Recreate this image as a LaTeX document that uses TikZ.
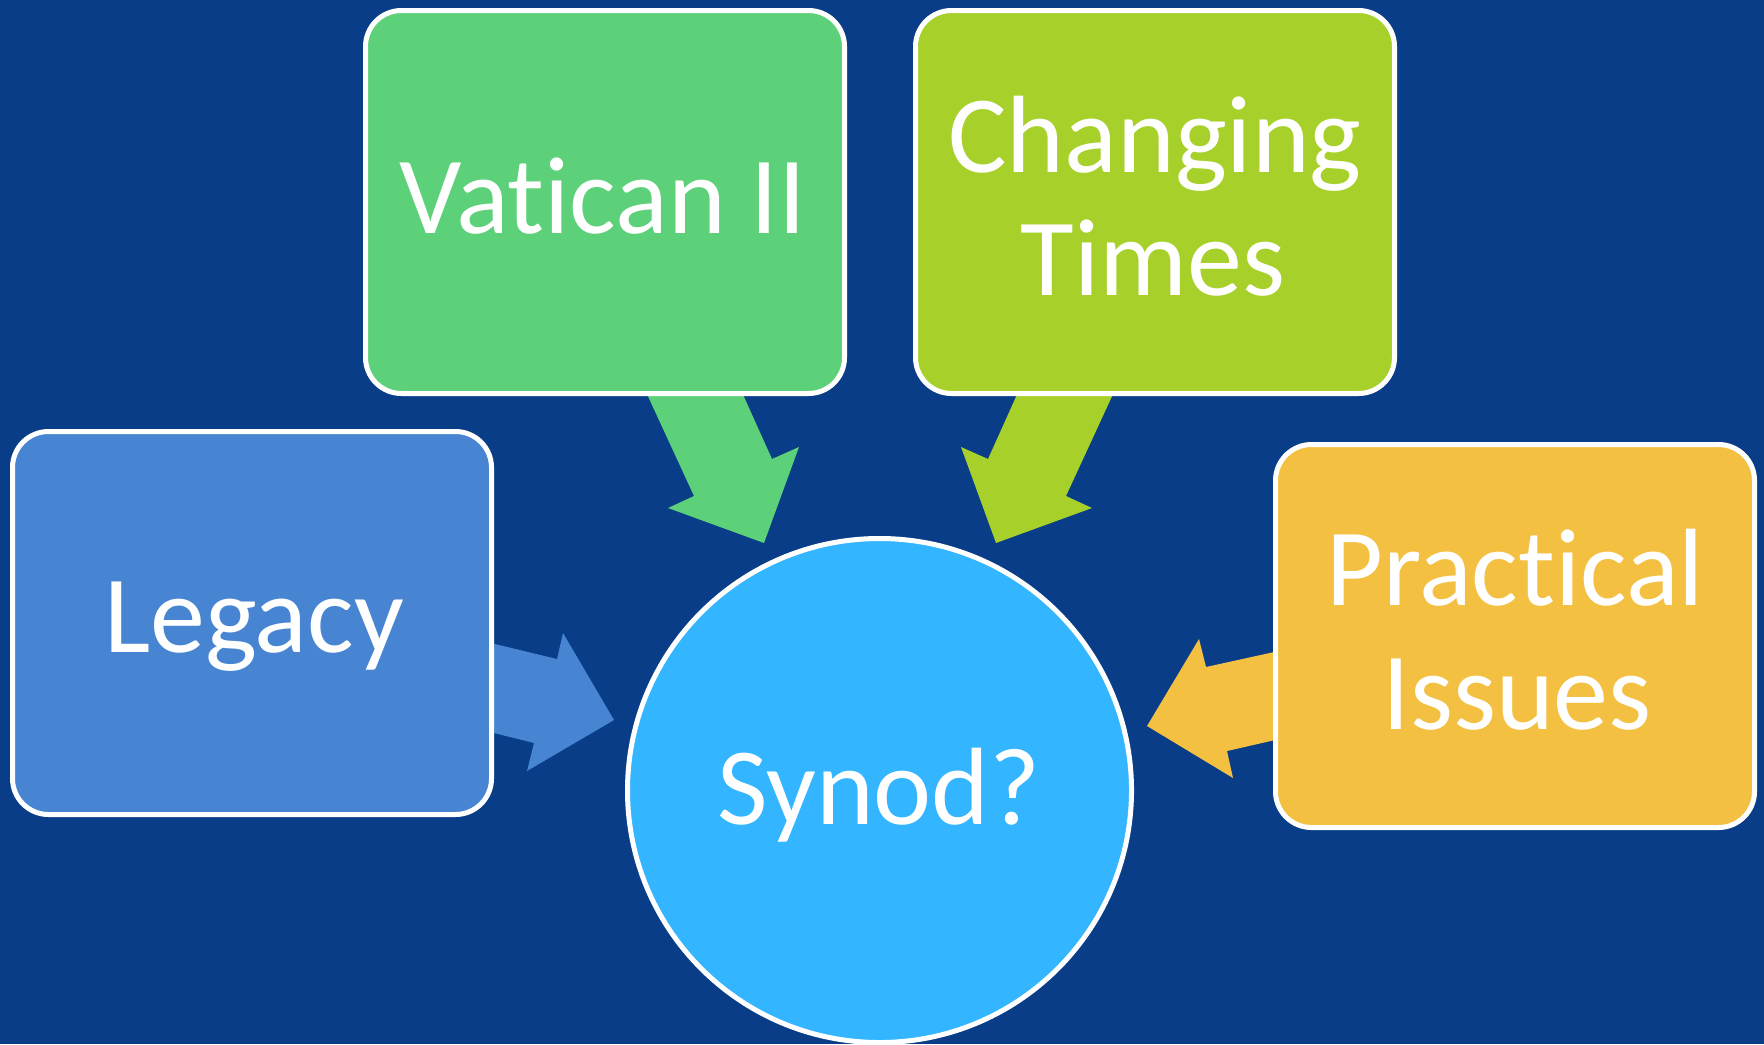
\documentclass[tikz,border=0pt]{standalone}
\usepackage{fontspec}
\setmainfont{Carlito}[Ligatures={NoCommon,NoRequired}]
\definecolor{bgblue}{HTML}{093D87}
\definecolor{vgreen}{HTML}{5CD17A}
\definecolor{cgreen}{HTML}{A7D12A}
\definecolor{lblue}{HTML}{4785D3}
\definecolor{porange}{HTML}{F4C042}
\definecolor{sblue}{HTML}{33B5FF}
\begin{document}
\begin{tikzpicture}[x=0.5pt,y=-0.5pt,
  box/.style={rectangle, rounded corners=18pt, draw=white, line width=2.5pt,
    minimum width=239.5pt, minimum height=191.5pt, inner sep=0pt},
  hub/.style={circle, draw=white, line width=2.5pt, minimum size=252pt, inner sep=0pt},
  label text/.style={anchor=base, inner sep=0pt, text=white,
    font=\fontsize{55}{61.5}\selectfont}]
\useasboundingbox (0,0) rectangle (1764,1044);
\fill[bgblue] (0,0) rectangle (1764,1044);
% block arrows (drawn beneath the boxes)
\coordinate (va1) at (640,379); \coordinate (va2) at (694,496); \coordinate (va3) at (668,508);
\coordinate (vatip) at (764,543); \coordinate (va5) at (799,447); \coordinate (va6) at (772,459);
\coordinate (va7) at (736,379);
\fill[vgreen] (va1) -- (va2) -- (va3) -- (vatip) -- (va5) -- (va6) -- (va7) -- cycle;
\coordinate (ca1) at (1120,379); \coordinate (ca2) at (1066,496); \coordinate (ca3) at (1092,508);
\coordinate (catip) at (996,543); \coordinate (ca5) at (961,447); \coordinate (ca6) at (988,459);
\coordinate (ca7) at (1024,379);
\fill[cgreen] (ca1) -- (ca2) -- (ca3) -- (catip) -- (ca5) -- (ca6) -- (ca7) -- cycle;
\coordinate (la1) at (470,638); \coordinate (la2) at (557,659); \coordinate (la3) at (563,633);
\coordinate (latip) at (614,720); \coordinate (la5) at (527,771); \coordinate (la6) at (534,743);
\coordinate (la7) at (470,727);
\fill[lblue] (la1) -- (la2) -- (la3) -- (latip) -- (la5) -- (la6) -- (la7) -- cycle;
\coordinate (pa1) at (1297,647); \coordinate (pa2) at (1206,667); \coordinate (pa3) at (1199,639);
\coordinate (patip) at (1147,726); \coordinate (pa5) at (1233,778); \coordinate (pa6) at (1227,751);
\coordinate (pa7) at (1297,735);
\fill[porange] (pa1) -- (pa2) -- (pa3) -- (patip) -- (pa5) -- (pa6) -- (pa7) -- cycle;
% boxes
\node[box, fill=vgreen] (vatican) at (605,202) {};
\node[box, fill=cgreen] (changing) at (1155,202) {};
\node[box, fill=lblue] (legacy) at (252,623) {};
\node[box, fill=porange] (practical) at (1515,636) {};
% hub
\node[hub, fill=sblue] (synod) at (879.5,790.5) {};
% texts
\node[label text] (vatican-t) at (603,233) {Vatican II};
\node[label text] (changing-t1) at (1155,172) {Changing};
\node[label text] (changing-t2) at (1153,295) {Times};
\node[label text] (legacy-t) at (254,652.5) {Legacy};
\node[label text] (practical-t1) at (1515,605) {Practical};
\node[label text] (practical-t2) at (1517,729) {Issues};
\node[label text] (synod-t) at (879,824.5) {Synod?};
\end{tikzpicture}
\end{document}
